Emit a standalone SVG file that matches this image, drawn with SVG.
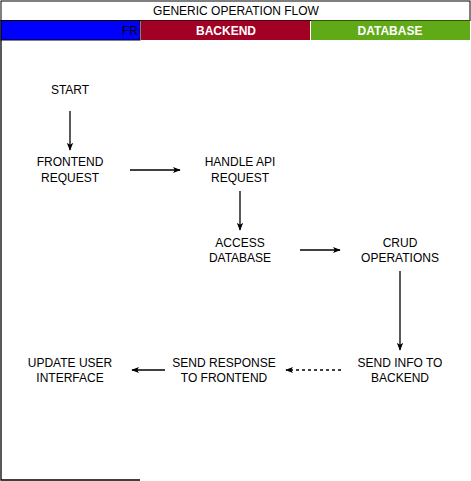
<svg xmlns="http://www.w3.org/2000/svg" width="471" height="481" viewBox="0 0 471 481">
<style>
text{font-family:"Liberation Sans",Arial,sans-serif;font-size:12px;text-anchor:middle;fill:#000}
.hd{font-weight:bold;fill:#fff}
.c{stroke:#000;stroke-width:1.3;fill:none}
</style>
<defs>
<marker id="ah" viewBox="0 0 10 10" refX="9" refY="5" markerWidth="8" markerHeight="8" orient="auto" markerUnits="userSpaceOnUse"><path d="M0,1 L10,5 L0,9 L2.5,5 Z" fill="#000"/></marker>
</defs>
<rect width="471" height="481" fill="#fff"/>
<g id="pool">
<rect x="1" y="1" width="469" height="19.5" fill="#fff" stroke="#000"/>
<text x="236" y="15">GENERIC OPERATION FLOW</text>
<path d="M1,20 V480 H140" fill="none" stroke="#000" stroke-width="1.3"/>
</g>
<g id="lane-frontend">
<rect x="1" y="20.5" width="139" height="19.5" fill="#0000ff" stroke="#000"/>
<text x="138" y="35" style="text-anchor:end">FR</text>
</g>
<g id="lane-backend">
<rect x="141" y="20.5" width="169" height="19.5" fill="#a20025"/>
<text x="226" y="35" class="hd">BACKEND</text>
</g>
<g id="lane-database">
<rect x="311" y="20.5" width="159" height="19.5" fill="#60a917"/>
<text x="390" y="35" class="hd">DATABASE</text>
</g>
<g id="start"><text x="70" y="94">START</text></g>
<g id="frontend-request"><text x="70" y="166">FRONTEND</text><text x="70" y="182">REQUEST</text></g>
<g id="handle-api"><text x="240" y="166">HANDLE API</text><text x="240" y="182">REQUEST</text></g>
<g id="access-db"><text x="240" y="247">ACCESS</text><text x="240" y="262">DATABASE</text></g>
<g id="crud"><text x="400" y="247">CRUD</text><text x="400" y="262">OPERATIONS</text></g>
<g id="send-info"><text x="400" y="367">SEND INFO TO</text><text x="400" y="382">BACKEND</text></g>
<g id="send-response"><text x="224" y="367">SEND RESPONSE</text><text x="224" y="382">TO FRONTEND</text></g>
<g id="update-ui"><text x="70" y="367">UPDATE USER</text><text x="70" y="382">INTERFACE</text></g>
<g id="connectors">
<path class="c" d="M70,111 V150" marker-end="url(#ah)"/>
<path class="c" d="M130,170 H180" marker-end="url(#ah)"/>
<path class="c" d="M240,191 V230" marker-end="url(#ah)"/>
<path class="c" d="M300,250 H340" marker-end="url(#ah)"/>
<path class="c" d="M400,271 V350" marker-end="url(#ah)"/>
<path class="c" d="M341,370 H286" stroke-dasharray="3,3" marker-end="url(#ah)"/>
<path class="c" d="M165,370 H132" marker-end="url(#ah)"/>
</g>
</svg>
